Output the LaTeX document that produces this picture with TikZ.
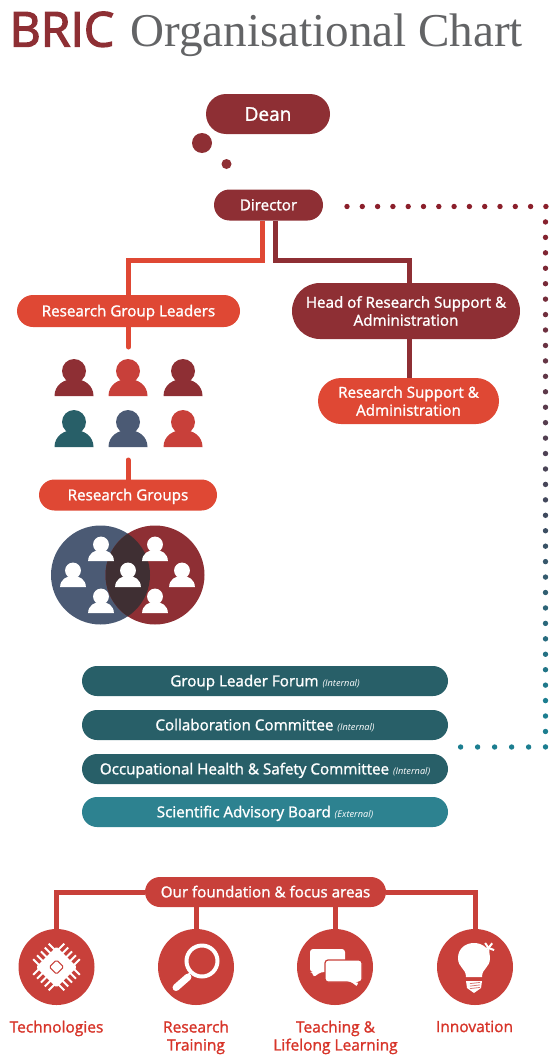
\documentclass[tikz,border=0pt]{standalone}
\usepackage{fontspec}
\usetikzlibrary{shapes.misc}
\setmainfont{Open Sans}
\newfontfamily\labelfont{Open Sans}[FakeBold=1.4]
\newfontfamily\headfont{Open Sans}[FakeBold=2.8]
\newfontfamily\titleserif{Liberation Serif}
\definecolor{bricdark}{HTML}{8E2F34}
\definecolor{bricred}{HTML}{DF4834}
\definecolor{bricrose}{HTML}{C8403A}
\definecolor{bricnavy}{HTML}{4B5A74}
\definecolor{brictealdark}{HTML}{285F68}
\definecolor{bricteal}{HTML}{2D8290}
\definecolor{bricoverlap}{HTML}{3F2F33}
\definecolor{bricgrey}{HTML}{636466}
\definecolor{dotmid}{HTML}{3F4A5E}
\definecolor{dotred}{HTML}{8B1F2B}
\definecolor{dotteal}{HTML}{1C7E90}
\definecolor{focustext}{HTML}{D7352A}
\tikzset{
  pill/.style={rounded rectangle,draw=none,text=white,align=center,inner sep=0pt,
    font=\labelfont\fontsize{15.2}{18}\selectfont},
  oneline/.style={text height=10.7pt,text depth=0pt},
  barpill/.style={pill,oneline,minimum width=366pt,minimum height=30pt},
  link/.style={line width=5pt},
  focusdisc/.style={circle,fill=bricrose,minimum size=76pt,inner sep=0pt},
  focuslabel/.style={text=focustext,align=center,inner sep=0pt,anchor=north,
    font=\labelfont\fontsize{15.5}{18}\selectfont},
  person/.pic={
    \path[pic actions] (0,-25) circle (12);
    \path[pic actions] (-19.5,0) .. controls (-19.5,-11) and (-10,-17) .. (0,-17)
      .. controls (10,-17) and (19.5,-11) .. (19.5,0) -- cycle;
  }
}
\newcommand{\tagtext}[1]{{\fontspec{Open Sans}\itshape\fontsize{9.2}{9.2}\selectfont #1}}
\begin{document}
\begin{tikzpicture}[x=1pt,y=-1pt]
  \useasboundingbox (0,0) rectangle (550,1057);

  % title
  \node[anchor=base west,inner sep=0pt,text=bricdark,font=\headfont\fontsize{48}{48}\selectfont] (brictitle) at (9.5,46.5) {BRIC};
  \node[anchor=base west,inner sep=0pt,text=bricgrey,font=\titleserif\fontsize{47.1}{47.1}\selectfont] (charttitle) at (130,46.5) {Organisational Chart};

  % top of the chart
  \node[pill,fill=bricdark,minimum width=124pt,minimum height=40pt,text height=13.6pt,text depth=0pt,font=\labelfont\fontsize{19}{19}\selectfont] (dean) at (268,114) {Dean};
  \node[circle,fill=bricdark,minimum size=20pt,inner sep=0pt] (deanbig) at (202,143) {};
  \node[circle,fill=bricdark,minimum size=10pt,inner sep=0pt] (deansmall) at (226.5,164) {};
  \node[pill,oneline,fill=bricdark,minimum width=109pt,minimum height=31pt] (director) at (268.5,205) {Director};
  \node[pill,oneline,fill=bricred,minimum width=223pt,minimum height=32pt] (leaders) at (128.5,311) {Research Group Leaders};
  \node[pill,fill=bricdark,minimum width=228pt,minimum height=56pt] (head) at (406,311) {Head of Research Support \&\\Administration};
  \node[pill,fill=bricred,minimum width=181pt,minimum height=46pt] (support) at (408.5,401) {Research Support \&\\Administration};
  \node[pill,oneline,fill=bricred,minimum width=178pt,minimum height=31pt] (groups) at (128,495) {Research Groups};

  \draw[link,bricred] ([xshift=-6pt]director.south) -- ++(0,40) -| (leaders.north);
  \draw[link,bricdark] ([xshift=7pt]director.south) -- ++(0,40) -| ([xshift=3.5pt]head.north);
  \draw[link,bricdark] ([xshift=3.5pt]head.south) -- ([xshift=1pt]support.north);
  \coordinate (leadersend) at (128.5,347);
  \coordinate (groupsstart) at (128,460);
  \draw[link,bricred,line cap=round] (leaders.south) -- (leadersend);
  \draw[link,bricred,line cap=round] (groupsstart) -- (groups.north);

  % group leaders
  \pic[fill=bricdark] at (74,396) {person};
  \pic[fill=bricrose] at (128,396) {person};
  \pic[fill=bricdark] at (183,396) {person};
  \pic[fill=brictealdark] at (74,447) {person};
  \pic[fill=bricnavy] at (128,447) {person};
  \pic[fill=bricrose] at (183,447) {person};

  % research groups
  \fill[bricnavy] (100.5,575) circle (49.5);
  \fill[bricdark] (155,575) circle (49.5);
  \begin{scope}
    \clip (100.5,575) circle (49.5);
    \fill[bricoverlap] (155,575) circle (49.5);
  \end{scope}
  \foreach \px/\py in {101/561,73/587,101/613,128/587,155/561,182/587,155/613}
    \pic[fill=white,scale=0.66] at (\px,\py) {person};

  % committees
  \node[barpill,fill=brictealdark] (forum) at (265,681) {Group Leader Forum \tagtext{(Internal)}};
  \node[barpill,fill=brictealdark] (collab) at (265,725) {Collaboration Committee \tagtext{(Internal)}};
  \node[barpill,fill=brictealdark] (safety) at (265,769) {Occupational Health \& Safety Committee \tagtext{(Internal)}};
  \node[barpill,fill=bricteal] (board) at (265,812) {Scientific Advisory Board \tagtext{(External)}};

  % dotted line
  \foreach \i in {0,...,13}
    \fill[dotred] (347+15.3*\i,206.5) circle (2.7);
  \foreach \i in {1,...,35} {
    \pgfmathtruncatemacro{\mixa}{min(100,100*\i/20)}
    \pgfmathtruncatemacro{\mixb}{max(0,min(100,100*(\i-20)/12))}
    \fill[dotmid!\mixa!dotred!\the\numexpr100-\mixb\relax!dotteal] (545.5,206.5+15.44*\i) circle (2.7);
  }
  \foreach \i in {0,...,4}
    \fill[dotteal] (460.6+17*\i,747) circle (2.7);

  % foundation
  \node[pill,oneline,fill=bricrose,minimum width=241pt,minimum height=30pt] (foundation) at (265.5,892) {Our foundation \& focus areas};
  \node[focusdisc] (technologies) at (56.5,967) {};
  \node[focusdisc] (training) at (196,967) {};
  \node[focusdisc] (teaching) at (335,967) {};
  \node[focusdisc] (innovation) at (475,967) {};
  \draw[link,bricrose] (foundation.west) -| (technologies.north);
  \draw[link,bricrose] (foundation.east) -| (innovation.north);
  \draw[link,bricrose] (foundation.south -| training) -- (training.north);
  \draw[link,bricrose] (foundation.south -| teaching) -- (teaching.north);
  \node[focuslabel] (technologieslabel) at (56.5,1020.5) {Technologies};
  \node[focuslabel] (traininglabel) at (196,1020.5) {Research\\Training};
  \node[focuslabel] (teachinglabel) at (335.5,1020.5) {Teaching \&\\Lifelong Learning};
  \node[focuslabel] (innovationlabel) at (474.5,1020.5) {Innovation};

  % chip
  \begin{scope}[shift={(56.5,967)},rotate=45]
    \fill[white,rounded corners=1.5pt] (-14.5,-14.5) rectangle (14.5,14.5);
    \foreach \p in {-11,-5.5,0,5.5,11} {
      \draw[white,line width=1.9pt] (\p,-14) -- (\p,-22);
      \draw[white,line width=1.9pt] (\p,14) -- (\p,22);
      \draw[white,line width=1.9pt] (-14,\p) -- (-22,\p);
      \draw[white,line width=1.9pt] (14,\p) -- (22,\p);
    }
    \draw[bricrose,line width=1pt,rounded corners=1.5pt] (-5,-5) rectangle (5,5);
  \end{scope}

  % magnifier
  \draw[white,line width=4pt] (202,961) circle (15.5);
  \draw[white,line width=1.5pt] (190.5,972.5) -- (187,976);
  \draw[white,line width=7pt,line cap=round] (188,977) -- (176,987.5);

  % bubbles
  \fill[white,rounded corners=3pt] (310,949) -- (345,949) -- (345,972) -- (321,972) -- (313,977.5) -- (313,972) -- (310,972) -- cycle;
  \draw[fill=white,draw=bricrose,line width=1.2pt,rounded corners=3pt] (325,960) -- (362,960) -- (362,982) -- (358,982) -- (358,988) -- (350,982) -- (325,982) -- cycle;

  % bulb
  \fill[white] (466,977) .. controls (466,968) and (458,968) .. (458,958)
    .. controls (458,949) and (465,943) .. (474,943)
    .. controls (483,943) and (490,949) .. (490,958)
    .. controls (490,968) and (482,968) .. (482,977) -- cycle;
  \fill[white] (466,981) -- (482,981) -- (481,988) -- (474,993) -- (467,988) -- cycle;
  \foreach \sy in {983,985.5,988}
    \draw[bricrose!70!white,line width=0.8pt] (470,\sy+0.6) -- (480,\sy-0.6);
  \foreach \a in {0,72,144,216,288}
    \draw[white,line width=2pt] (488.5,948) -- ++(\a+20:6);
\end{tikzpicture}
\end{document}
